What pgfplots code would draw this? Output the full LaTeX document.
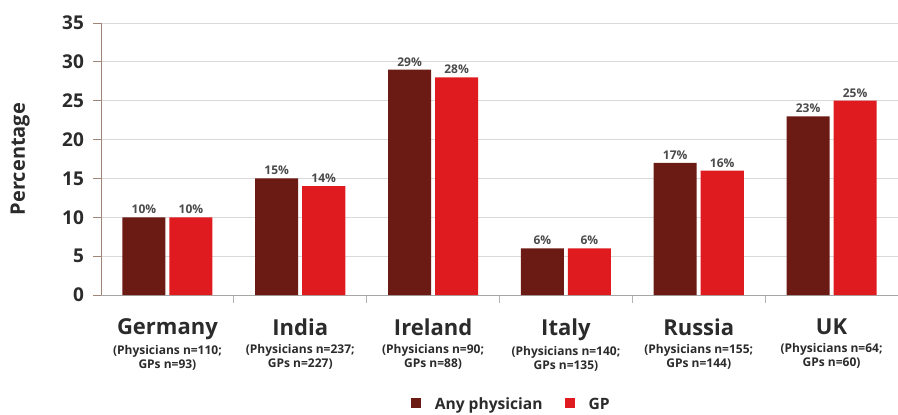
\documentclass[border=0pt]{standalone}
\usepackage{pgfplots}
\pgfplotsset{compat=1.18}
\usepackage{fontspec}
\setmainfont{Open Sans}
\definecolor{darkbar}{HTML}{6B1A14}
\definecolor{redbar}{HTML}{DF1B1F}
\definecolor{txt}{HTML}{2B2B2B}
\definecolor{yline}{HTML}{A08478}
\newcommand{\clab}[3]{{\fontsize{11}{12}\selectfont\bfseries #1}\\[2pt]{\fontsize{6}{7}\selectfont\bfseries (Physicians n=#2;}\\{\fontsize{6}{7}\selectfont\bfseries GPs n=#3)}}
\begin{document}
\begin{tikzpicture}
\path[use as bounding box] (0,0) rectangle (449pt,207pt);
\begin{axis}[
  at={(50.5pt,59.5pt)}, anchor=south west,
  scale only axis, width=398.5pt, height=136pt,
  ybar=2pt, bar width=21.5pt,
  xmin=-0.5, xmax=5.5, ymin=0, ymax=35,
  ytick={0,5,...,35},
  xtick={0.5,1.5,2.5,3.5,4.5},
  xticklabels={},
  x tick style={draw=gray!60, thin},
  extra x ticks={0,1,2,3,4,5},
  extra x tick labels={{\clab{Germany}{110}{93}},{\clab{India}{237}{227}},{\clab{Ireland}{90}{88}},{\clab{Italy}{140}{135}},{\clab{Russia}{155}{144}},{\clab{UK}{64}{60}}},
  extra x tick style={grid=none, major tick length=0pt, xticklabel style={align=center, text=txt, inner sep=0pt, yshift=-11.5pt, font=\fontsize{6}{7}\selectfont}},
  axis x line*=bottom, axis y line*=left,
  x axis line style={draw=gray!70, thin, -},
  y axis line style={draw=yline, thin, -},
  ytick style={draw=yline, thin}, major tick length=4pt, tick align=outside,
  yticklabel style={font=\fontsize{9.5}{10}\selectfont\bfseries, text=txt, xshift=-1pt},
  /pgf/number format/assume math mode=true,
  ymajorgrids, grid style={draw=gray!30, thin},
  ylabel={Percentage},
  ylabel style={at={(axis description cs:-0.1016,0.5)}, anchor=center, font=\fontsize{10}{12}\selectfont\bfseries, text=txt},
  nodes near coords={\pgfmathprintnumber{\pgfplotspointmeta}\%},
  every node near coord/.append style={font=\fontsize{6}{7}\selectfont\bfseries, text=txt!85, inner sep=1.5pt},
  legend style={at={(axis description cs:0.516,-0.404)}, anchor=center, draw=none, fill=none, legend columns=-1, font=\fontsize{7.8}{9}\selectfont\bfseries, text=txt, /tikz/every odd column/.append style={column sep=5pt}, /tikz/every even column/.append style={column sep=9pt}},
  legend image code/.code={\fill[#1] (0pt,-1.5pt) rectangle (5pt,3.5pt);},
]
\addplot[fill=darkbar, draw=none] coordinates {(0,10) (1,15) (2,29) (3,6) (4,17) (5,23)};
\addplot[fill=redbar, draw=none] coordinates {(0,10) (1,14) (2,28) (3,6) (4,16) (5,25)};
\legend{Any physician, GP}
\end{axis}
\end{tikzpicture}
\end{document}
